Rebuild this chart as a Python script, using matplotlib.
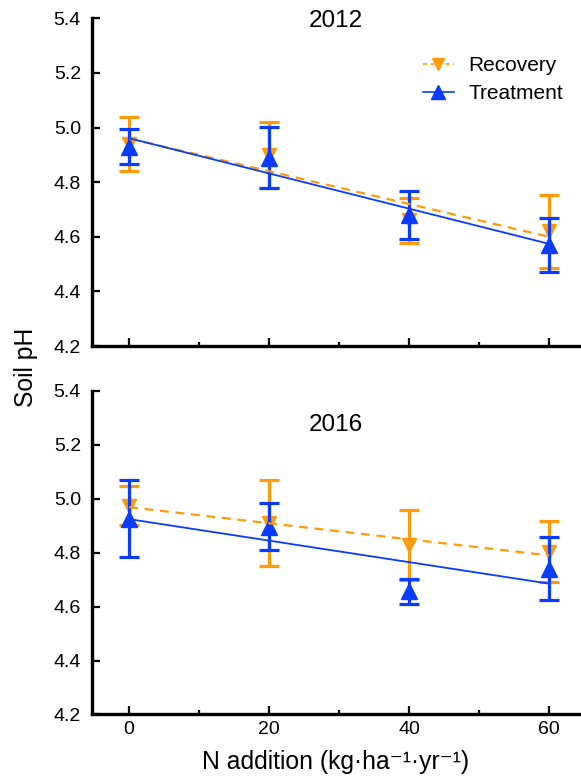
import matplotlib
matplotlib.use('Agg')
import matplotlib.pyplot as plt
from matplotlib.lines import Line2D
from matplotlib.ticker import MultipleLocator
import numpy as np

plt.rcParams['font.family'] = ['Liberation Sans', 'DejaVu Sans']

# N addition levels
n_add = np.array([0, 20, 40, 60])

# 2012 soil pH (mean, error)
rec_2012 = np.array([4.94, 4.90, 4.66, 4.62])
rec_2012_err = np.array([0.10, 0.12, 0.083, 0.133])
trt_2012 = np.array([4.93, 4.89, 4.68, 4.57])
trt_2012_err = np.array([0.063, 0.113, 0.087, 0.098])

# 2016 soil pH (mean, error)
rec_2016 = np.array([4.975, 4.91, 4.83, 4.803])
rec_2016_err = np.array([0.072, 0.158, 0.13, 0.113])
trt_2016 = np.array([4.926, 4.897, 4.657, 4.74])
trt_2016_err = np.array([0.143, 0.086, 0.046, 0.117])

years = ['2012', '2016']

orange = '#ff9a0a'
blue = '#0a3cff'

fig = plt.figure(figsize=(5.81, 7.79), dpi=100)
ax_top = fig.add_axes([0.1583, 0.5558, 0.840, 0.4207])
ax_bot = fig.add_axes([0.1583, 0.0828, 0.840, 0.4153])

panels = [(ax_top, rec_2012, rec_2012_err, trt_2012, trt_2012_err, 0.993),
          (ax_bot, rec_2016, rec_2016_err, trt_2016, trt_2016_err, 0.896)]

xfit = np.array([0, 60])
for i, (ax, rec, rec_err, trt, trt_err, ty) in enumerate(panels):
    ax.errorbar(n_add, rec, yerr=rec_err, fmt='v', color=orange, ms=10,
                elinewidth=2.3, capsize=7, capthick=2.3, zorder=2)
    ax.errorbar(n_add, trt, yerr=trt_err, fmt='^', color=blue, ms=12,
                elinewidth=2.3, capsize=7, capthick=2.3, zorder=3)
    # linear regression lines
    p_rec = np.polyfit(n_add, rec, 1)
    p_trt = np.polyfit(n_add, trt, 1)
    ax.plot(xfit, np.polyval(p_rec, xfit), '--', color=orange, lw=1.6,
            dashes=(4, 3), zorder=4)
    ax.plot(xfit, np.polyval(p_trt, xfit), '-', color=blue, lw=1.3, zorder=4)

    ax.set_xlim(-5.3, 64.4)
    ax.set_ylim(4.2, 5.4)
    ax.set_yticks(np.arange(4.2, 5.41, 0.2))
    ax.set_yticklabels(['%.1f' % v for v in np.arange(4.2, 5.41, 0.2)])
    ax.set_xticks([0, 20, 40, 60])
    ax.xaxis.set_minor_locator(MultipleLocator(10))
    for s in ['top', 'right']:
        ax.spines[s].set_visible(False)
    for s in ['left', 'bottom']:
        ax.spines[s].set_linewidth(2.4)
    ax.tick_params(axis='both', which='major', direction='in', length=6,
                   width=1.6, labelsize=14)
    ax.tick_params(axis='y', pad=8)
    ax.tick_params(axis='x', pad=5)
    ax.tick_params(axis='x', which='minor', direction='in', length=3, width=1.6)
    ax.text(0.5, ty, years[i], transform=ax.transAxes, ha='center', va='center',
            fontsize=17.5)

ax_top.tick_params(axis='x', labelbottom=False)
ax_bot.set_xlabel('N addition (kg·ha⁻¹·yr⁻¹)', fontsize=17.8, labelpad=8)
fig.text(0.045, 0.528, 'Soil pH', rotation=90, ha='center', va='center', fontsize=17.8)

handles = [Line2D([], [], color=orange, ls='--', dashes=(2.5, 2), lw=1.2, marker='v', ms=8),
           Line2D([], [], color=blue, ls='-', lw=1.2, marker='^', ms=10)]
ax_top.legend(handles, ['Recovery', 'Treatment'], loc='upper left',
              bbox_to_anchor=(0.678, 0.885), frameon=False, fontsize=15,
              handlelength=1.5, handletextpad=0.7, borderpad=0, borderaxespad=0,
              labelspacing=0.45)

fig.savefig('out.png', dpi=100)
